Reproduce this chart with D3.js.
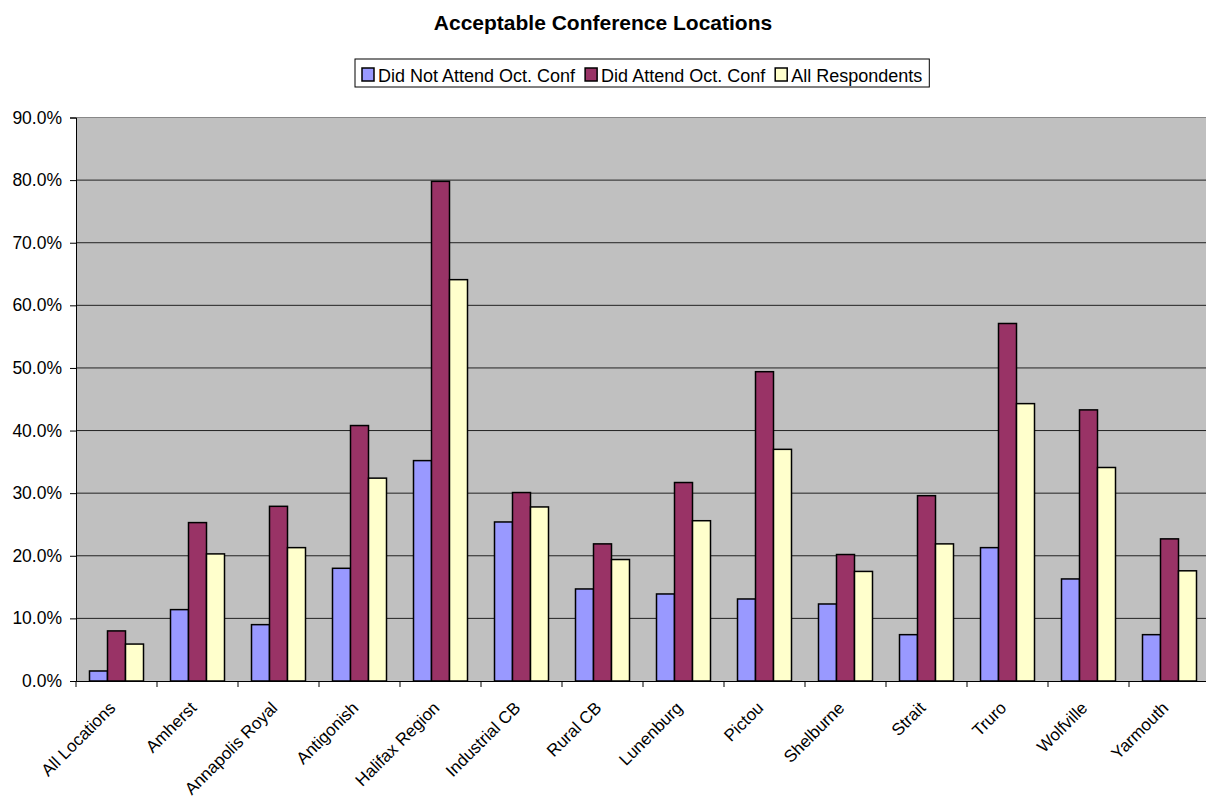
<!DOCTYPE html>
<html><head><meta charset="utf-8">
<script src="https://cdn.jsdelivr.net/npm/d3@7"></script>
<style>body{margin:0;background:#fff;} text{font-family:"Liberation Sans",Arial,sans-serif;}</style>
</head><body><svg id="c" width="1206" height="803"></svg>
<script>
const categories = ["All Locations","Amherst","Annapolis Royal","Antigonish","Halifax Region","Industrial CB","Rural CB","Lunenburg","Pictou","Shelburne","Strait","Truro","Wolfville","Yarmouth"];
const seriesNames = ["Did Not Attend Oct. Conf","Did Attend Oct. Conf","All Respondents"];
const didNotAttend = [1.6,11.4,9.0,18.0,35.2,25.4,14.7,13.9,13.1,12.3,7.4,21.3,16.3,7.4];
const didAttend = [8.0,25.3,27.9,40.8,79.8,30.1,21.9,31.7,49.4,20.2,29.6,57.1,43.3,22.7];
const allRespondents = [5.9,20.3,21.3,32.4,64.1,27.8,19.4,25.6,37.0,17.5,21.9,44.3,34.1,17.6];
const yTicks = [0,10,20,30,40,50,60,70,80,90];
const colors = ["#9999FF","#993366","#FFFFCC"];

const svg = d3.select("#c");
const L=76, R=1210, T=117.5, B=681;
const x = d3.scaleBand().domain(categories).range([L,R]).paddingInner(0).paddingOuter(0);
const y = d3.scaleLinear().domain([0,90]).range([B,T]);
const xs = d3.scaleBand().domain(seriesNames).range([0,x.bandwidth()]).paddingInner(0).paddingOuter(0.75);

svg.append("rect").attr("x",L).attr("y",T).attr("width",R-L).attr("height",B-T).attr("fill","#C0C0C0");
svg.append("g").selectAll("line").data(yTicks.slice(1)).join("line")
 .attr("x1",L).attr("x2",R).attr("y1",d=>y(d)).attr("y2",d=>y(d)).attr("stroke","#222").attr("stroke-width",1);
svg.append("line").attr("x1",L).attr("x2",R).attr("y1",T).attr("y2",T).attr("stroke","#888").attr("stroke-width",1);

const data = [didNotAttend,didAttend,allRespondents];
data.forEach((arr,si)=>{
  svg.append("g").selectAll("rect").data(arr).join("rect")
   .attr("x",(d,i)=>x(categories[i])+xs(seriesNames[si]))
   .attr("y",d=>y(d)).attr("width",xs.bandwidth()).attr("height",d=>B-y(d))
   .attr("fill",colors[si]).attr("stroke","#000").attr("stroke-width",1.5);
});

// axes
const yAxis = d3.axisLeft(y).tickValues(yTicks).tickSize(6).tickFormat(d=>d.toFixed(1)+"%");
const gy = svg.append("g").attr("transform",`translate(${L},0)`).call(yAxis);
gy.select(".domain").attr("stroke","#000");
gy.selectAll("text").attr("font-size",17.5).attr("fill","#000").attr("x",-14).style("font-family","Liberation Sans, Arial, sans-serif");
gy.selectAll("line").attr("stroke","#000");

const xAxis = d3.axisBottom(x).tickSize(0).tickFormat("");
const gx = svg.append("g").attr("transform",`translate(0,${B})`).call(xAxis);
gx.select(".domain").attr("stroke","#000");
svg.append("g").selectAll("line").data(d3.range(categories.length+1)).join("line")
 .attr("x1",i=>L+i*x.step()).attr("x2",i=>L+i*x.step()).attr("y1",B).attr("y2",B+6).attr("stroke","#000");

svg.append("g").selectAll("text").data(categories).join("text")
 .attr("transform",d=>`translate(${x(d)+x.bandwidth()/2},${B+28}) rotate(-45)`)
 .attr("text-anchor","end").attr("font-size",17).attr("fill","#000").text(d=>d);

// title
svg.append("text").attr("x",603).attr("y",30).attr("text-anchor","middle").attr("font-size",21).attr("font-weight","bold").text("Acceptable Conference Locations");

// legend
const lg = svg.append("g");
const box = lg.append("rect").attr("y",59).attr("height",28).attr("fill","#fff").attr("stroke","#000");
let cx = 0;
const offsets = [];
const gs = [];
seriesNames.forEach((n,i)=>{
  const g = lg.append("g");
  g.append("rect").attr("x",0).attr("y",68).attr("width",12).attr("height",13).attr("fill",colors[i]).attr("stroke","#000").attr("stroke-width",1.5);
  const t = g.append("text").attr("x",16).attr("y",82).attr("font-size",18).text(n);
  offsets.push(cx); gs.push(g);
  cx += 16 + t.node().getComputedTextLength() + 10;
});
const totalW = cx - 10;
const lx = 362;
gs.forEach((g,i)=>g.attr("transform",`translate(${lx+offsets[i]},0)`));
box.attr("x",lx-7).attr("width",totalW+14);
</script></body></html>
